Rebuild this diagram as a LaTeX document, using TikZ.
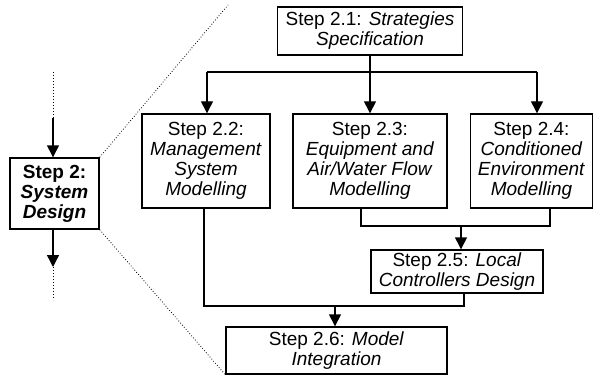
\documentclass[tikz,border=0pt]{standalone}
\usepackage{fontspec}
\setmainfont{Liberation Sans}
\usetikzlibrary{arrows.meta}
\begin{document}
\begin{tikzpicture}[x=1pt,y=-1pt,
  stepbox/.style={draw,line width=1.4pt,align=center,inner sep=0pt,
    font=\fontsize{19}{20}\selectfont},
  link/.style={line width=1.4pt},
  arr/.style={line width=1.4pt,-{Triangle[width=12pt,length=12pt]}},
  zoomline/.style={line width=0.8pt,dotted},
  stub/.style={line width=1pt,dotted}]
\useasboundingbox (0,0) rectangle (594,377);

% sub-steps
\node[stepbox,minimum width=185pt,minimum height=48pt] (s21) at (370,31)
  {Step 2.1: \textit{Strategies}\\\textit{Specification}};
\node[stepbox,minimum width=128pt,minimum height=94pt] (s22) at (206,161)
  {Step 2.2:\\\textit{Management}\\\textit{System}\\\textit{Modelling}};
\node[stepbox,minimum width=154pt,minimum height=94pt] (s23) at (370,161)
  {Step 2.3:\\\textit{Equipment and}\\\textit{Air/Water Flow}\\\textit{Modelling}};
\node[stepbox,minimum width=122pt,minimum height=94pt] (s24) at (531.5,161)
  {Step 2.4:\\\textit{Conditioned}\\\textit{Environment}\\\textit{Modelling}};
\node[stepbox,minimum width=172pt,minimum height=43pt] (s25) at (457,271.5)
  {Step 2.5: \textit{Local}\\\textit{Controllers Design}};
\node[stepbox,minimum width=221pt,minimum height=47pt] (s26) at (336.5,350.5)
  {Step 2.6: \textit{Model}\\\textit{Integration}};

% overall step
\node[stepbox,minimum width=89pt,minimum height=71pt] (s2) at (54.5,193.5)
  {\textbf{Step 2:}\\\textbf{\textit{System}}\\\textbf{\textit{Design}}};

% bus levels and branch points
\coordinate (bus1) at (0,72);
\coordinate (a22) at (207,0);
\coordinate (a24) at (537,0);
\coordinate (d23) at (361,0);
\coordinate (d24) at (550,0);
\coordinate (bus2) at (0,226);
\coordinate (a25) at (461,0);
\coordinate (d22) at (204,0);
\coordinate (d25) at (464,0);
\coordinate (bus3) at (0,306);
\coordinate (a26) at (335,0);

% fan-out from 2.1
\draw[arr] (s21.south) -- (s23.north);
\draw[link] (a22 |- bus1) -- (a24 |- bus1);
\draw[arr] (a22 |- bus1) -- (a22 |- s22.north);
\draw[arr] (a24 |- bus1) -- (a24 |- s24.north);

% 2.3 and 2.4 into 2.5
\draw[link] (d23 |- s23.south) -- (d23 |- bus2) -- (d24 |- bus2) -- (d24 |- s24.south);
\draw[arr] (a25 |- bus2) -- (a25 |- s25.north);

% 2.2 and 2.5 into 2.6
\draw[link] (d22 |- s22.south) -- (d22 |- bus3) -- (d25 |- bus3) -- (d25 |- s25.south);
\draw[arr] (a26 |- bus3) -- (a26 |- s26.north);

% flow through step 2
\coordinate (in0) at (53,72);
\coordinate (in1) at (53,118);
\coordinate (out1) at (53,267);
\coordinate (out0) at (53,300);
\draw[stub] (in0) -- (in1);
\draw[arr] (in1) -- (in1 |- s2.north);
\draw[arr] (in1 |- s2.south) -- (out1);
\draw[stub] (out1) -- (out0);

% zoom outline
\coordinate (ztop) at (228,5);
\draw[zoomline] (s2.north east) -- (ztop);
\draw[zoomline] (s2.south east) -- (s26.south west);
\end{tikzpicture}
\end{document}
